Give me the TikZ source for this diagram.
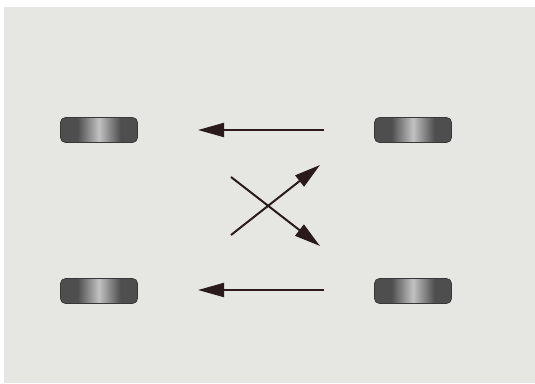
\documentclass[tikz,border=0pt]{standalone}
\usepackage{tikz}
\usetikzlibrary{arrows.meta,positioning}

\definecolor{panelgray}{HTML}{E6E7E2}
\definecolor{tiredark}{HTML}{383838}
\definecolor{tiremid}{HTML}{4E4E4E}
\definecolor{tirelight}{HTML}{C2C2C2}
\definecolor{arrowbrown}{HTML}{2B1A1C}

\pgfdeclarehorizontalshading{tireshade}{100bp}{color(0bp)=(tiredark); color(18bp)=(tiremid); color(36bp)=(tiremid); color(50bp)=(tirelight); color(64bp)=(tiremid); color(82bp)=(tiremid); color(100bp)=(tiredark)}

\begin{document}
\begin{tikzpicture}[
    x=1pt, y=-1pt,
    tire/.style={rectangle, draw=tiredark, line width=0.8pt, shading=tireshade, minimum width=77pt, minimum height=25pt, rounded corners=5pt, inner sep=0pt},
    arrow/.style={-{Triangle[length=26pt, width=14pt]}, line width=2pt, draw=arrowbrown}
]
\useasboundingbox (0,0) rectangle (535,383);

% Background panel
\fill[panelgray] (4,7) rectangle (535,383);

% Tires
\node[tire] (frontleft) at (99,130) {};
\node[tire] (frontright) at (413,130) {};
\node[tire] (rearleft) at (99,291) {};
\node[tire] (rearright) at (413,291) {};

% Arrow end points
\coordinate (topstart) at (324,130);
\coordinate (topend) at (198,130);
\coordinate (bottomstart) at (324,290);
\coordinate (bottomend) at (198,290);
\coordinate (upstart) at (231,235);
\coordinate (upend) at (320,165);
\coordinate (downstart) at (231,177);
\coordinate (downend) at (320,246);

% Arrows
\draw[arrow] (topstart) -- (topend);
\draw[arrow] (bottomstart) -- (bottomend);
\draw[arrow] (upstart) -- (upend);
\draw[arrow] (downstart) -- (downend);

\end{tikzpicture}
\end{document}
